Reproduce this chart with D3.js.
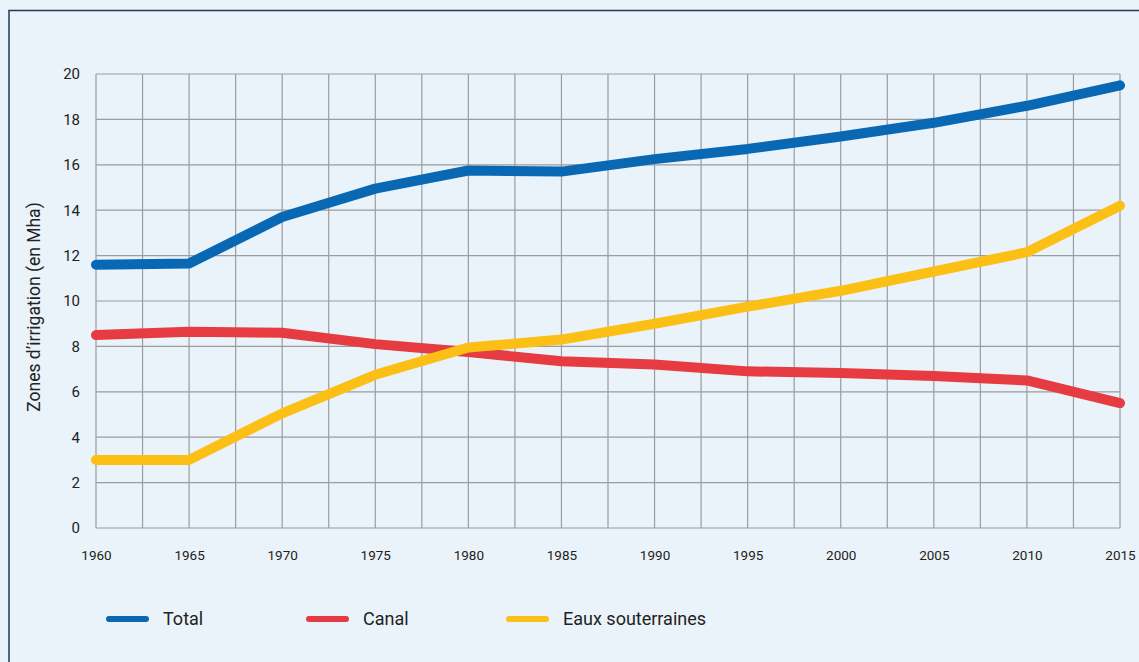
<!DOCTYPE html>
<html>
<head>
<meta charset="utf-8">
<script src="https://cdn.jsdelivr.net/npm/d3@7"></script>
<style>
  body { margin: 0; background: #eaf3f9; }
  svg { display: block; font-family: Roboto, "Noto Sans", sans-serif; }
</style>
</head>
<body>
<div id="chart"></div>
<script>
// data
var years = [1960, 1965, 1970, 1975, 1980, 1985, 1990, 1995, 2000, 2005, 2010, 2015];
var total = [11.6, 11.65, 13.7, 14.95, 15.75, 15.7, 16.25, 16.7, 17.25, 17.85, 18.6, 19.5];
var canal = [8.5, 8.65, 8.6, 8.1, 7.75, 7.35, 7.2, 6.9, 6.83, 6.7, 6.5, 5.5];
var eauxSout = [3.0, 3.0, 5.05, 6.75, 7.95, 8.3, 9.0, 9.75, 10.45, 11.3, 12.15, 14.2];
var yTicks = [0, 2, 4, 6, 8, 10, 12, 14, 16, 18, 20];
var seriesNames = ["Total", "Canal", "Eaux souterraines"];
var seriesColors = ["#0868b4", "#e63b40", "#fbbf16"];

var width = 1139, height = 662;
var margin = { left: 96, right: 19, top: 74, bottom: 134 };

var svg = d3.select("#chart").append("svg")
  .attr("width", width)
  .attr("height", height);

svg.append("rect")
  .attr("width", width).attr("height", height)
  .attr("fill", "#eaf3f9");

// frame around the figure
svg.append("path")
  .attr("d", "M9," + (height + 5) + " V10.5 H" + (width + 5))
  .attr("fill", "none")
  .attr("stroke", "#1e3a5a")
  .attr("stroke-width", 1.5);

var x = d3.scaleLinear()
  .domain([1960, 2015])
  .range([margin.left, width - margin.right]);

var y = d3.scaleLinear()
  .domain([0, 20])
  .range([height - margin.bottom, margin.top]);

// grid
var g = svg.append("g").attr("class", "grid");
var vLines = d3.range(1960, 2015.1, 2.5);
g.selectAll("line.v").data(vLines).enter().append("line")
  .attr("class", "v")
  .attr("x1", function(d) { return x(d); })
  .attr("x2", function(d) { return x(d); })
  .attr("y1", y(0)).attr("y2", y(20))
  .attr("stroke", "#9a9c9e").attr("stroke-width", 1.2);
g.selectAll("line.h").data(yTicks).enter().append("line")
  .attr("class", "h")
  .attr("y1", function(d) { return y(d); })
  .attr("y2", function(d) { return y(d); })
  .attr("x1", x(1960)).attr("x2", x(2015))
  .attr("stroke", "#9a9c9e").attr("stroke-width", 1.2);

// axes
var yAxis = svg.append("g")
  .attr("transform", "translate(" + x(1960) + ",0)")
  .call(d3.axisLeft(y).tickValues(yTicks).tickSize(0).tickPadding(16));
yAxis.select(".domain").remove();
yAxis.selectAll("text").attr("font-size", 15).attr("fill", "#222").attr("font-family", "Roboto");

var xAxis = svg.append("g")
  .attr("transform", "translate(0," + y(0) + ")")
  .call(d3.axisBottom(x).tickValues(years).tickFormat(d3.format("d")).tickSize(0).tickPadding(22));
xAxis.select(".domain").remove();
xAxis.selectAll("text").attr("font-size", 13.5).attr("fill", "#222").attr("font-family", "Roboto");

svg.append("text")
  .attr("transform", "translate(40," + (y(10) + 6) + ") rotate(-90)")
  .attr("text-anchor", "middle")
  .attr("font-size", 17.5)
  .attr("fill", "#222")
  .text("Zones d\u2019irrigation (en Mha)");

// lines
var line = d3.line()
  .x(function(d, i) { return x(years[i]); })
  .y(function(d) { return y(d); });

var allSeries = [total, canal, eauxSout];
svg.append("g").selectAll("path").data(allSeries).enter().append("path")
  .attr("d", line)
  .attr("fill", "none")
  .attr("stroke", function(d, i) { return seriesColors[i]; })
  .attr("stroke-width", 10)
  .attr("stroke-linecap", "round")
  .attr("stroke-linejoin", "round");

// legend
var legend = svg.append("g").attr("transform", "translate(106,619)");
var item = legend.selectAll("g").data(seriesNames).enter().append("g")
  .attr("transform", function(d, i) { return "translate(" + (i * 200) + ",0)"; });
item.append("line")
  .attr("x1", 3).attr("x2", 40)
  .attr("stroke", function(d, i) { return seriesColors[i]; })
  .attr("stroke-width", 6)
  .attr("stroke-linecap", "round");
item.append("text")
  .attr("x", 57).attr("y", 6)
  .attr("font-size", 18)
  .attr("fill", "#222")
  .text(function(d) { return d; });
</script>
</body>
</html>
